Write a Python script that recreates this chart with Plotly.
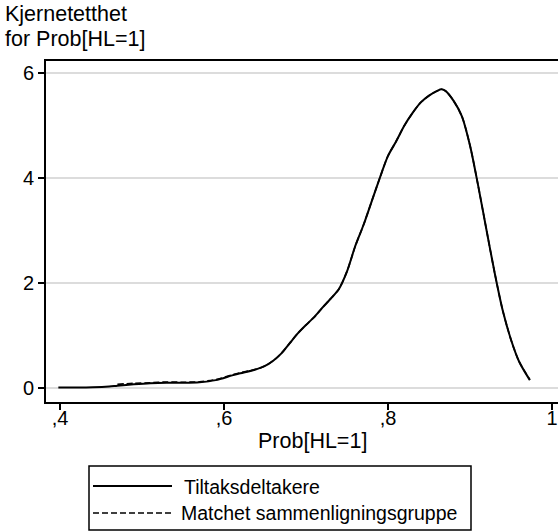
import plotly.graph_objects as go

# ---- data ----
prob = [0.398, 0.42, 0.44, 0.46, 0.47, 0.49, 0.51, 0.53, 0.55, 0.57, 0.59, 0.61,
        0.62, 0.64, 0.65, 0.66, 0.67, 0.68, 0.69, 0.70, 0.71, 0.72, 0.73, 0.74,
        0.75, 0.76, 0.77, 0.78, 0.79, 0.80, 0.81, 0.82, 0.83, 0.84, 0.85, 0.86,
        0.865, 0.87, 0.88, 0.89, 0.90, 0.91, 0.92, 0.93, 0.94, 0.95, 0.96, 0.973]
dens_treated = [0.01, 0.01, 0.015, 0.03, 0.045, 0.07, 0.09, 0.10, 0.10, 0.11, 0.15, 0.24,
                0.28, 0.36, 0.42, 0.52, 0.66, 0.85, 1.04, 1.20, 1.35, 1.53, 1.70, 1.88,
                2.22, 2.70, 3.10, 3.55, 4.00, 4.42, 4.70, 5.00, 5.24, 5.44, 5.57, 5.66,
                5.69, 5.66, 5.47, 5.18, 4.62, 3.85, 3.02, 2.20, 1.47, 0.92, 0.50, 0.15]
dens_matched = [None, None, None, None, 0.07, 0.09, 0.10, 0.115, 0.11, 0.12, 0.16, 0.25,
                0.29, 0.36, 0.42, 0.52, 0.66, 0.85, 1.04, 1.20, 1.35, 1.53, 1.70, 1.88,
                2.22, 2.70, 3.10, 3.55, 4.00, 4.42, 4.70, 5.00, 5.24, 5.44, 5.57, 5.66,
                5.69, 5.66, 5.47, 5.18, 4.62, 3.85, 3.02, 2.20, 1.47, 0.92, 0.50, 0.16]
series_names = ["Tiltaksdeltakere", "Matchet sammenligningsgruppe"]
x_tickvals = [0.4, 0.6, 0.8, 1.0]
x_ticktext = [",4", ",6", ",8", "1"]
y_tickvals = [0, 2, 4, 6]
x_title = "Prob[HL=1]"
y_title_lines = ["Kjernetetthet", "for Prob[HL=1]"]

FONT = "Liberation Sans, Arial, Helvetica, sans-serif"
FS = 19.5       # legend text
FS_TITLE = 21.5  # axis titles
FS_TICK = 20
W, H = 558, 532
ML, MR, MT, MB = 46, 0, 61, 130
PW, PH = W - ML - MR, H - MT - MB


def px_x(px):
    return (px - ML) / PW


def px_y(py):
    return (H - MB - py) / PH


fig = go.Figure()
fig.add_trace(go.Scatter(x=prob, y=dens_treated, mode="lines", name=series_names[0],
                         line=dict(color="black", width=2, shape="spline", smoothing=0.8),
                         showlegend=False))
fig.add_trace(go.Scatter(x=prob, y=dens_matched, mode="lines", name=series_names[1],
                         line=dict(color="black", width=1.6, dash="6px,3px",
                                   shape="spline", smoothing=0.8),
                         showlegend=False))

shapes = [
    dict(type="rect", xref="paper", yref="paper", x0=px_x(89), x1=px_x(471),
         y0=px_y(530), y1=px_y(466), line=dict(color="black", width=1.5)),
    dict(type="line", xref="paper", yref="paper", x0=px_x(93), x1=px_x(172),
         y0=px_y(486), y1=px_y(486), line=dict(color="black", width=2)),
    dict(type="line", xref="paper", yref="paper", x0=px_x(93), x1=px_x(172),
         y0=px_y(513), y1=px_y(513), line=dict(color="black", width=1.6, dash="6px,3px")),
]

annotations = [
    dict(text=series_names[0], xref="paper", yref="paper", x=px_x(182), y=px_y(487),
         xanchor="left", yanchor="middle", showarrow=False, font=dict(size=FS)),
    dict(text=series_names[1], xref="paper", yref="paper", x=px_x(179), y=px_y(513),
         xanchor="left", yanchor="middle", showarrow=False, font=dict(size=FS)),
    dict(text=y_title_lines[0], xref="paper", yref="paper", x=px_x(3), y=px_y(14),
         xanchor="left", yanchor="middle", showarrow=False, font=dict(size=FS_TITLE)),
    dict(text=y_title_lines[1], xref="paper", yref="paper", x=px_x(3), y=px_y(39),
         xanchor="left", yanchor="middle", showarrow=False, font=dict(size=FS_TITLE)),
    dict(text=x_title, xref="paper", yref="paper", x=px_x(312), y=px_y(441),
         xanchor="center", yanchor="middle", showarrow=False, font=dict(size=FS_TITLE)),
]

fig.update_layout(
    width=W, height=H,
    margin=dict(l=ML, r=MR, t=MT, b=MB, pad=0),
    paper_bgcolor="white", plot_bgcolor="white",
    font=dict(family=FONT, size=FS, color="black"),
    showlegend=False,
    shapes=shapes,
    annotations=annotations,
    xaxis=dict(range=[0.4 - 14 / 820, 1.0 + 6 / 820], tickvals=x_tickvals,
               ticktext=x_ticktext, ticks="outside", ticklen=6, tickwidth=1.5,
               tickcolor="black", showline=True, linecolor="black", linewidth=2,
               mirror=True, showgrid=False, zeroline=False,
               tickfont=dict(size=FS_TICK), ticklabelstandoff=-9),
    yaxis=dict(range=[-14 / 52.5, 6 + 12 / 52.5], tickvals=y_tickvals,
               ticks="outside", ticklen=6, tickwidth=1.5, tickcolor="black",
               showline=True, linecolor="black", linewidth=2, showgrid=True,
               gridcolor="#dcdcdc", gridwidth=2, zeroline=False,
               tickfont=dict(size=FS_TICK)),
)

fig.write_html("out.html")
